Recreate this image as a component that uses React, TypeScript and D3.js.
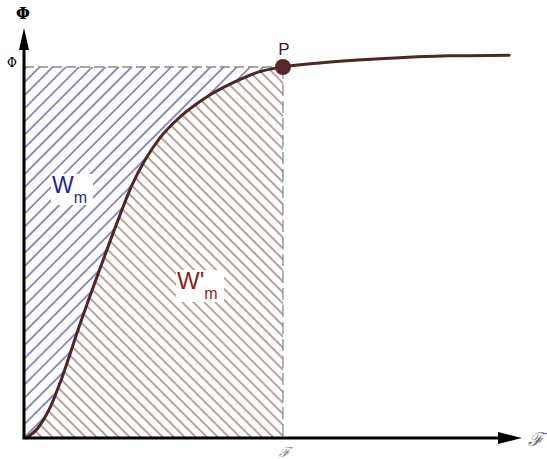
import React from "react";
import * as d3 from "d3";

// Magnetisation curve Φ(ℱ): sampled points along the curve
const curveF = [0.4, 2.8, 5.2, 7.6, 11.2, 15.3, 18.9, 21.7, 24.3, 27.3, 31.3, 36.3, 42.2, 47.2, 52.0, 59.4, 71.5, 85.5, 97.4];
const curvePhi = [0, 0.027, 0.081, 0.162, 0.305, 0.458, 0.588, 0.682, 0.749, 0.809, 0.865, 0.916, 0.959, 0.987, 1.0, 1.011, 1.022, 1.03, 1.032];

// Operating point P
const opF = 52.0;
const opPhi = 1.0;

// Axis extents (arrow tips)
const fMax = 100;
const phiMax = 1.105;

const W = 547;
const H = 459;

export default function App() {
  const x = d3.scaleLinear().domain([0, fMax]).range([24, 522]);
  const y = d3.scaleLinear().domain([0, 1]).range([438, 67]);

  const pts: [number, number][] = curveF.map((f, i) => [f, curvePhi[i]]);
  const upToP = pts.filter((p) => p[0] <= opF);

  const line = d3
    .line<[number, number]>()
    .x((d) => x(d[0]))
    .y((d) => y(d[1]))
    .curve(d3.curveMonotoneX);

  const curvePath = line(pts) || "";
  const partPath = line(upToP) || "";

  const x0 = x(0);
  const y0 = y(0);
  const xP = x(opF);
  const yP = y(opPhi);

  // Region between the Φ axis and the curve (W_m), tracing the curve back from P
  const revLine = line(upToP.slice().reverse()) || "";
  const wmPath = `M${x0},${yP} L${xP},${yP} ${revLine.replace(/^M/, "L")} L${x0},${y0} Z`;
  // Region under the curve up to ℱ (W'_m)
  const wpmPath = `${partPath} L${xP},${y0} L${x0},${y0} Z`;

  const yTip = y(phiMax);
  const xTip = x(fMax);

  return (
    <svg
      width={W}
      height={H}
      viewBox={`0 0 ${W} ${H}`}
      style={{ position: "absolute", left: 0, top: 0, background: "#fff" }}
    >
      <defs>
        <pattern id="hatchBlue" patternUnits="userSpaceOnUse" width="9.3" height="20" patternTransform="rotate(45)">
          <line x1="1" y1="-5" x2="1" y2="25" stroke="#34349a" strokeWidth="1.1" />
        </pattern>
        <pattern id="hatchBrown" patternUnits="userSpaceOnUse" width="7.8" height="20" patternTransform="rotate(-45)">
          <line x1="1" y1="-5" x2="1" y2="25" stroke="#875252" strokeWidth="1.1" />
        </pattern>
      </defs>

      <path d={wmPath} fill="url(#hatchBlue)" stroke="none" />
      <path d={wpmPath} fill="url(#hatchBrown)" stroke="none" />

      {/* dashed guides to P */}
      <line x1={x0} y1={yP} x2={xP} y2={yP} stroke="#8a8a8a" strokeWidth={1.3} strokeDasharray="10,4" />
      <line x1={xP} y1={yP} x2={xP} y2={y0} stroke="#8a8a8a" strokeWidth={1.3} strokeDasharray="12,5" />

      {/* area labels on white backgrounds */}
      <rect x={51} y={174} width={42} height={31} fill="#fff" />
      <text x={52} y={193} fontFamily="Liberation Sans, Arial, sans-serif" fontSize={23} fill="#1f1fa8">
        W
        <tspan fontSize={16} dy={10}>m</tspan>
      </text>
      <rect x={176} y={270} width={48} height={32} fill="#fff" />
      <text x={177} y={289} fontFamily="Liberation Sans, Arial, sans-serif" fontSize={24} fill="#8c1f1f">
        W'
        <tspan fontSize={16} dy={10}>m</tspan>
      </text>

      {/* magnetisation curve */}
      <path d={curvePath} fill="none" stroke="#4d2626" strokeWidth={3} strokeLinecap="round" />
      <circle cx={xP} cy={yP} r={8} fill="#5a2828" />
      <text x={xP + 1} y={55} textAnchor="middle" fontFamily="Liberation Sans, Arial, sans-serif" fontSize={17} fill="#3a2020">
        P
      </text>

      {/* axes */}
      <line x1={x0} y1={y0} x2={x0} y2={yTip + 12} stroke="#000" strokeWidth={3} />
      <path d={`M${x0},${yTip} L${x0 + 5},${yTip + 22} L${x0 - 5},${yTip + 22} Z`} fill="#000" />
      <line x1={x0 - 1.5} y1={y0} x2={xTip - 12} y2={y0} stroke="#000" strokeWidth={3} />
      <path d={`M${xTip},${y0} L${xTip - 24},${y0 - 6} L${xTip - 24},${y0 + 6} Z`} fill="#000" />

      {/* axis labels */}
      <text x={23} y={19} textAnchor="middle" fontFamily="DejaVu Serif, serif" fontSize={16} fontWeight="bold" fill="#000">
        Φ
      </text>
      <text x={12} y={67} textAnchor="middle" fontFamily="DejaVu Serif, serif" fontSize={12} fill="#000">
        Φ
      </text>
      <text x={xP + 2} y={457} textAnchor="middle" fontFamily="DejaVu Serif, serif" fontStyle="italic" fontSize={14} fill="#8a8a8a">
        ℱ
      </text>
      <text x={536} y={446} textAnchor="middle" fontFamily="DejaVu Serif, serif" fontStyle="italic" fontSize={19} fill="#6a6a6a">
        ℱ
      </text>
    </svg>
  );
}
